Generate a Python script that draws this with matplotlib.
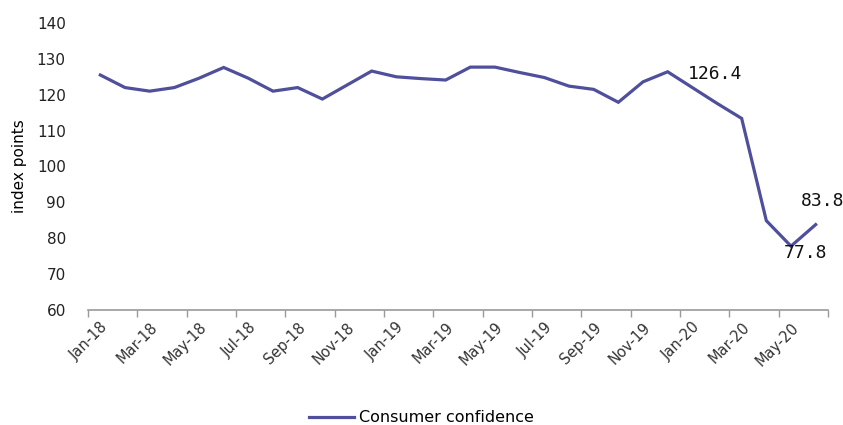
import numpy as np
import pandas as pd
from matplotlib import pyplot as plt

months = pd.date_range("2018-01-01", "2020-06-01", freq="MS").strftime("%b-%y").tolist()
confidence = [125.5, 122.0, 121.0, 122.0, 124.6, 127.6, 124.6, 121.0, 122.0, 118.8,
              122.7, 126.6, 125.0, 124.5, 124.1, 127.7, 127.7, 126.2, 124.8, 122.4,
              121.5, 117.9, 123.6, 126.4, 122.0, 117.6, 113.4, 84.9, 77.8, 83.8]
labelled = {23: "126.4", 28: "77.8", 29: "83.8"}

line_col = "#4F4F9C"
x = np.arange(len(months))

fig = plt.figure(figsize=(8.43, 4.25), dpi=100)
ax = fig.add_axes([0.1044, 0.2706, 0.8778, 0.6753])
ax.plot(x, confidence, color=line_col, lw=2.3, solid_joinstyle="miter",
        label="Consumer confidence")

ax.set_xlim(-0.5, len(months) - 0.5)
ax.set_ylim(60, 140)
ax.set_yticks(range(60, 141, 10))
ax.tick_params(axis="y", length=0, pad=16, labelsize=11, colors="#222222")

# labels on every second month, tick marks between categories
ax.set_xticks(x[::2])
ax.set_xticklabels(months[::2], rotation=45, ha="right", rotation_mode="anchor",
                   fontsize=10.5, color="#333333")
ax.set_xticks(np.arange(-0.5, len(months), 2), minor=True)
ax.tick_params(axis="x", which="major", length=0, pad=7)
ax.tick_params(axis="x", which="minor", length=5, width=1, color="#999999", direction="out")

for s in ["top", "right", "left"]:
    ax.spines[s].set_visible(False)
ax.spines["bottom"].set_color("#999999")
ax.spines["bottom"].set_linewidth(1.2)

ax.set_ylabel("index points", fontsize=11, labelpad=8)
ax.yaxis.set_label_coords(-0.083, 0.5)

# value labels
offsets = {23: (0.8, -0.6), 28: (-0.3, -1.9), 29: (-0.6, 6.6)}
for i, txt in labelled.items():
    dx, dy = offsets[i]
    ax.text(x[i] + dx, confidence[i] + dy, txt, family="DejaVu Sans Mono",
            fontsize=13, ha="left", va="center", color="#111111")

fig.legend(loc="center", bbox_to_anchor=(0.5, 0.0165), frameon=False,
           fontsize=11.5, handlelength=2.8, handletextpad=0.3)

fig.savefig("out.png", dpi=100)
